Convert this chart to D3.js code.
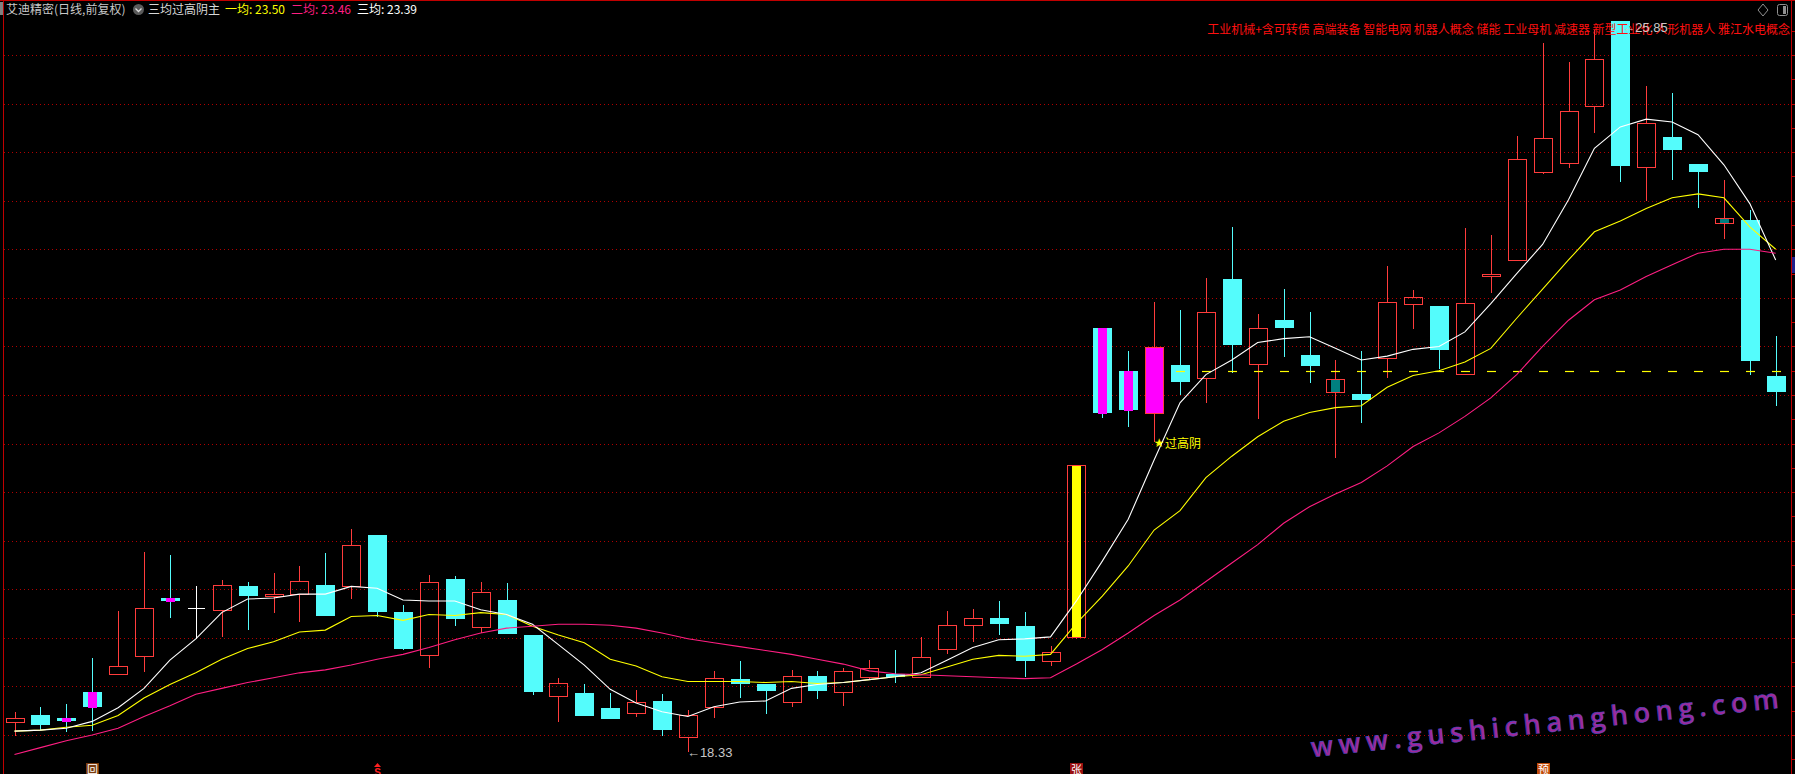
<!DOCTYPE html>
<html><head><meta charset="utf-8">
<script src="https://cdn.jsdelivr.net/npm/d3@7"></script>
<style>html,body{margin:0;padding:0;background:#000;overflow:hidden}</style>
</head><body><svg id="c" width="1795" height="774"></svg>
<script>
// ---- data (price units) ----
const openP  = [18.63,18.71,18.68,18.94,19.13,19.31,19.91,19.81,19.79,20.03,19.93,19.95,20.04,20.03,20.56,19.77,19.32,20.11,19.61,19.89,19.53,18.90,18.93,18.78,18.73,18.85,18.48,18.79,19.08,19.02,18.84,19.11,18.94,19.10,19.13,19.10,19.39,19.63,19.70,19.62,19.26,19.51,22.69,22.25,21.81,22.31,22.18,23.19,22.32,22.77,22.41,22.03,22.01,22.38,22.94,22.92,22.22,23.23,23.39,24.30,24.39,24.98,25.85,24.35,24.66,24.38,23.77,23.80,22.20];
const highP  = [18.74,18.79,18.82,19.29,19.78,20.38,20.35,20.03,20.10,20.08,20.17,20.24,20.37,20.62,20.56,19.84,20.15,20.14,20.08,20.06,19.53,19.09,19.02,18.93,18.96,18.92,18.76,19.16,19.26,19.02,19.17,19.16,19.19,19.27,19.37,19.51,19.78,19.80,19.88,19.77,19.42,21.28,22.69,22.45,22.96,22.88,23.20,23.73,22.83,23.09,22.85,22.36,22.45,23.33,23.08,22.92,23.72,23.65,24.67,25.62,25.43,25.76,25.85,25.18,25.11,24.38,24.21,23.90,22.61];
const lowP   = [18.49,18.55,18.53,18.54,19.13,19.15,19.70,19.49,19.51,19.58,19.76,19.66,19.72,19.90,19.71,19.37,19.19,19.62,19.55,19.54,18.91,18.63,18.70,18.66,18.69,18.49,18.33,18.67,18.88,18.72,18.79,18.87,18.80,19.07,19.04,19.10,19.33,19.46,19.53,19.10,19.21,19.49,21.76,21.67,21.52,22.00,21.92,22.23,21.75,22.39,22.12,21.35,21.71,22.17,22.68,22.27,22.22,23.05,23.39,24.28,24.34,24.70,24.19,24.00,24.21,23.92,23.61,22.21,21.89];
const closeP = [18.67,18.60,18.64,18.79,19.21,19.81,19.88,19.81,20.04,19.93,19.95,20.09,19.72,20.46,19.77,19.39,20.08,19.69,19.97,19.54,18.94,19.04,18.70,18.66,18.84,18.55,18.71,19.09,19.02,18.95,19.11,18.95,19.16,19.19,19.10,19.30,19.63,19.70,19.64,19.26,19.35,21.28,21.81,21.85,22.49,22.13,22.85,22.51,22.69,22.69,22.30,22.16,21.95,22.96,23.01,22.46,22.95,23.25,24.43,24.65,24.92,25.46,24.36,24.80,24.52,24.30,23.82,22.35,22.03];
// indicator signal per bar: m = magenta strip, M = magenta fill, y = yellow strip, t = teal strip
const signal = ["","","m","m","","","m","","","","","","","","","","","","","","","","","","","","","","","","","","","","","","","","","","","y","m","m","M","","","","","","","t","","","","","","","","","","","","","","","t","",""];
// 一均 (yellow), 二均 (pink), 三均 (white)
const ma1 = [18.54,18.55,18.58,18.60,18.70,18.88,19.02,19.14,19.28,19.39,19.46,19.56,19.58,19.72,19.73,19.68,19.74,19.73,19.76,19.74,19.62,19.53,19.45,19.28,19.21,19.10,19.05,19.05,19.05,19.04,19.05,19.03,19.04,19.07,19.10,19.12,19.20,19.28,19.32,19.31,19.33,19.65,19.93,20.24,20.61,20.81,21.15,21.37,21.57,21.73,21.82,21.87,21.89,22.08,22.20,22.25,22.34,22.48,22.79,23.09,23.39,23.68,23.79,23.92,24.03,24.07,24.03,23.73,23.50];
const ma2 = [18.30,18.37,18.44,18.50,18.57,18.69,18.80,18.92,18.98,19.04,19.09,19.14,19.17,19.22,19.28,19.33,19.40,19.48,19.55,19.60,19.62,19.64,19.64,19.63,19.60,19.55,19.49,19.45,19.41,19.37,19.33,19.28,19.23,19.16,19.13,19.12,19.11,19.10,19.09,19.08,19.09,19.23,19.38,19.55,19.73,19.89,20.08,20.27,20.46,20.68,20.85,20.98,21.10,21.27,21.47,21.61,21.78,21.97,22.21,22.50,22.77,22.98,23.08,23.22,23.34,23.46,23.50,23.50,23.46];
const ma3 = [18.54,18.55,18.57,18.64,18.78,18.98,19.27,19.49,19.76,19.90,19.91,19.95,19.95,20.03,20.01,19.89,19.88,19.88,19.79,19.74,19.64,19.43,19.22,18.97,18.83,18.74,18.69,18.79,18.84,18.85,18.98,19.02,19.04,19.07,19.10,19.14,19.27,19.40,19.48,19.49,19.51,19.88,20.29,20.72,21.33,21.92,22.21,22.36,22.54,22.58,22.60,22.48,22.36,22.40,22.47,22.50,22.65,22.94,23.25,23.55,24.01,24.54,24.76,24.84,24.81,24.68,24.37,23.97,23.39];
const gridPrices = [18.5,19.0,19.5,20.0,20.5,21.0,21.5,22.0,22.5,23.0,23.5,24.0,24.5,25.0,25.5];
const axisTicks = [18.25,18.75,19.25,19.75,20.25,20.75,21.25,21.75,22.25,22.75,23.25,23.75,24.25,24.75,25.25,25.75];
const levelPrice = 22.25, levelFrom = 45;   // dashed yellow level
const signalBar = 44, signalText = "过高阴";
const maxBar = 62, minBar = 26;
const title = "艾迪精密(日线,前复权)";
const indName = "三均过高阴主";
const maLabels = ["一均: 23.50","二均: 23.46","三均: 23.39"];
const concepts = "工业机械+含可转债 高端装备 智能电网 机器人概念 储能 工业母机 减速器 新型工业化 人形机器人 雅江水电概念";
const bottomMarks = [{bar:3,txt:"回",bg:"#7a3a0c"},{bar:41,txt:"张",bg:"#9a1010"},{bar:59,txt:"预",bg:"#c04a08"}];
const watermark = "www.gushichanghong.com";

// ---- drawing ----
const W=1795,H=774, n=closeP.length;
const svg=d3.select('#c');
svg.append('rect').attr('width',W).attr('height',H).attr('fill','#000');
const x=d3.scalePoint().domain(d3.range(n)).range([14.5,1775.7]);
const y=d3.scaleLinear().domain([18.5,25.5]).range([735,55]);
const px=i=>Math.round(x(i));
const RED='#ff3c3c', CYAN='#54fcfc', YEL='#ffff00', PINK='#ff1e82';

// grid
svg.append('g').selectAll('line').data(gridPrices).join('line')
  .attr('x1',4).attr('x2',1791).attr('y1',d=>Math.round(y(d))+0.5).attr('y2',d=>Math.round(y(d))+0.5)
  .attr('stroke','#b00000').attr('stroke-dasharray','1,3');
// frame
svg.append('line').attr('x1',0).attr('x2',W).attr('y1',0.5).attr('y2',0.5).attr('stroke','#c00000');
svg.append('line').attr('x1',3.5).attr('x2',3.5).attr('y1',0).attr('y2',H).attr('stroke','#c00000');
svg.append('line').attr('x1',1791.5).attr('x2',1791.5).attr('y1',0).attr('y2',H).attr('stroke','#c00000');
svg.append('g').selectAll('line').data(gridPrices.concat(axisTicks)).join('line')
  .attr('x1',1791).attr('x2',1795).attr('y1',d=>Math.round(y(d))+0.5).attr('y2',d=>Math.round(y(d))+0.5).attr('stroke','#c00000');
svg.append('rect').attr('x',0).attr('y',2).attr('width',3).attr('height',13).attr('fill','#808080');
svg.append('rect').attr('x',1792).attr('y',257).attr('width',3).attr('height',16).attr('fill','#20208a');

// candles
const cg=svg.append('g');
for(let i=0;i<n;i++){
  const o=openP[i],c=closeP[i],h=highP[i],l=lowP[i];
  const cx=px(i);
  const up=c>o, flat=c===o;
  const top=Math.round(y(Math.max(o,c))), bot=Math.round(y(Math.min(o,c)));
  const yh=Math.round(y(h)), yl=Math.round(y(l));
  if(flat){
    cg.append('line').attr('x1',cx+0.5).attr('x2',cx+0.5).attr('y1',yh).attr('y2',yl).attr('stroke','#fff');
    cg.append('line').attr('x1',cx-8).attr('x2',cx+9).attr('y1',top+0.5).attr('y2',top+0.5).attr('stroke','#fff');
    continue;
  }
  if(up){
    if(yh<top) cg.append('line').attr('x1',cx+0.5).attr('x2',cx+0.5).attr('y1',yh).attr('y2',top).attr('stroke',RED);
    if(yl>bot) cg.append('line').attr('x1',cx+0.5).attr('x2',cx+0.5).attr('y1',bot).attr('y2',yl).attr('stroke',RED);
    const s=signal[i];
    if(s==='M') cg.append('rect').attr('x',cx-8).attr('y',top).attr('width',17).attr('height',Math.max(1,bot-top)).attr('fill','#ff00ff');
    else if(s){
      const col=s==='y'?YEL:s==='t'?'#008080':'#ff00ff';
      cg.append('rect').attr('x',cx-4).attr('y',top).attr('width',9).attr('height',Math.max(1,bot-top)).attr('fill',col);
    }
    cg.append('rect').attr('x',cx-8.5).attr('y',top+0.5).attr('width',18).attr('height',Math.max(1,bot-top)).attr('fill','none').attr('stroke',RED);
  } else {
    cg.append('line').attr('x1',cx+0.5).attr('x2',cx+0.5).attr('y1',yh).attr('y2',yl).attr('stroke',CYAN);
    cg.append('rect').attr('x',cx-9).attr('y',top).attr('width',19).attr('height',Math.max(2,bot-top)).attr('fill',CYAN);
    if(signal[i]==='m') cg.append('rect').attr('x',cx-4).attr('y',top).attr('width',9).attr('height',Math.max(2,bot-top+1)).attr('fill','#ff00ff');
  }
}
// dashed level
svg.append('g').selectAll('line').data(d3.range(levelFrom,n)).join('line')
  .attr('x1',i=>px(i)-4).attr('x2',i=>px(i)+5).attr('y1',Math.round(y(levelPrice))+0.5).attr('y2',Math.round(y(levelPrice))+0.5)
  .attr('stroke',YEL).attr('stroke-width',1.2);

// moving averages
const line=d3.line().x((d,i)=>x(i)).y(d=>y(d));
[[ma1,YEL],[ma3,'#ffffff'],[ma2,PINK]].forEach(([d,c])=>{
  svg.append('path').datum(d).attr('d',line).attr('fill','none').attr('stroke',c).attr('stroke-width',1.1);
});

// signal label
svg.append('text').attr('x',x(signalBar)+5).attr('y',y(lowP[signalBar])+5).attr('text-anchor','middle')
  .attr('font-family','DejaVu Sans').attr('font-size',12).attr('fill',YEL).text('★');
svg.append('text').attr('x',x(signalBar)+11).attr('y',y(lowP[signalBar])+6).attr('font-family','Noto Sans CJK SC')
  .attr('font-size',12).attr('fill',YEL).text(signalText);

// extreme labels
svg.append('text').attr('x',x(minBar)-1).attr('y',y(lowP[minBar])+5).attr('font-family','Liberation Sans, Arial')
  .attr('font-size',13).attr('fill','#c8c8c8').text('←'+lowP[minBar].toFixed(2));

// concept text top-right
svg.append('text').attr('x',1790).attr('y',34).attr('text-anchor','end').attr('font-family','Noto Sans CJK SC')
  .attr('font-size',12).attr('fill','#ff1010').text(concepts);
svg.append('text').attr('x',x(maxBar)+2).attr('y',y(highP[maxBar])+11).attr('font-family','Liberation Sans, Arial')
  .attr('font-size',13).attr('fill','#c8c8c8').text('←'+highP[maxBar].toFixed(2));

// header
const hdr=svg.append('g').attr('font-family','Noto Sans CJK SC').attr('font-size',12);
hdr.append('text').attr('x',6).attr('y',14).attr('fill','#c8c8c8').text(title);
svg.append('circle').attr('cx',138.5).attr('cy',9.5).attr('r',5.5).attr('fill','#5a5a5a');
svg.append('path').attr('d','M135.5,8.5 L138.5,11.5 L141.5,8.5').attr('fill','none').attr('stroke','#ddd').attr('stroke-width',1.3);
hdr.append('text').attr('x',148).attr('y',14).attr('fill','#d8d8d8').text(indName);
hdr.append('text').attr('x',225).attr('y',14).attr('fill',YEL).text(maLabels[0]);
hdr.append('text').attr('x',291).attr('y',14).attr('fill',PINK).text(maLabels[1]);
hdr.append('text').attr('x',357).attr('y',14).attr('fill','#ffffff').text(maLabels[2]);

// top-right icons
svg.append('path').attr('d','M1763,4 L1768,10 L1763,16 L1758,10 Z').attr('fill','none').attr('stroke','#909090');
svg.append('rect').attr('x',1777.5).attr('y',4.5).attr('width',10).attr('height',11).attr('rx',2).attr('fill','none').attr('stroke','#909090');
svg.append('rect').attr('x',1783).attr('y',6).attr('width',3).attr('height',8).attr('fill','#909090');

// watermark
svg.append('text').attr('transform','translate(1312,757) rotate(-6)')
  .attr('font-family','Open Sans').attr('font-weight',600).attr('font-size',27)
  .attr('textLength',470).attr('lengthAdjust','spacing')
  .attr('fill','#a02898').attr('stroke','#4a4ac0').attr('stroke-width',0.6).text(watermark);

// bottom marks
bottomMarks.forEach(m=>{
  const cx=px(m.bar);
  svg.append('rect').attr('x',cx-6).attr('y',763).attr('width',13).attr('height',13).attr('fill',m.bg);
  svg.append('text').attr('x',cx+0.5).attr('y',774).attr('text-anchor','middle').attr('font-family','Noto Sans CJK SC')
    .attr('font-size',11).attr('fill','#fff').text(m.txt);
});
{
  const cx=px(14);
  svg.append('path').attr('d',`M${cx-3},767 L${cx+0.5},763 L${cx+4},767 Z`).attr('fill','#ff2020');
  svg.append('text').attr('x',cx+0.5).attr('y',776).attr('text-anchor','middle').attr('font-family','Liberation Sans')
    .attr('font-size',10).attr('font-weight','bold').attr('fill','#ff2020').text('S');
}
</script></body></html>
